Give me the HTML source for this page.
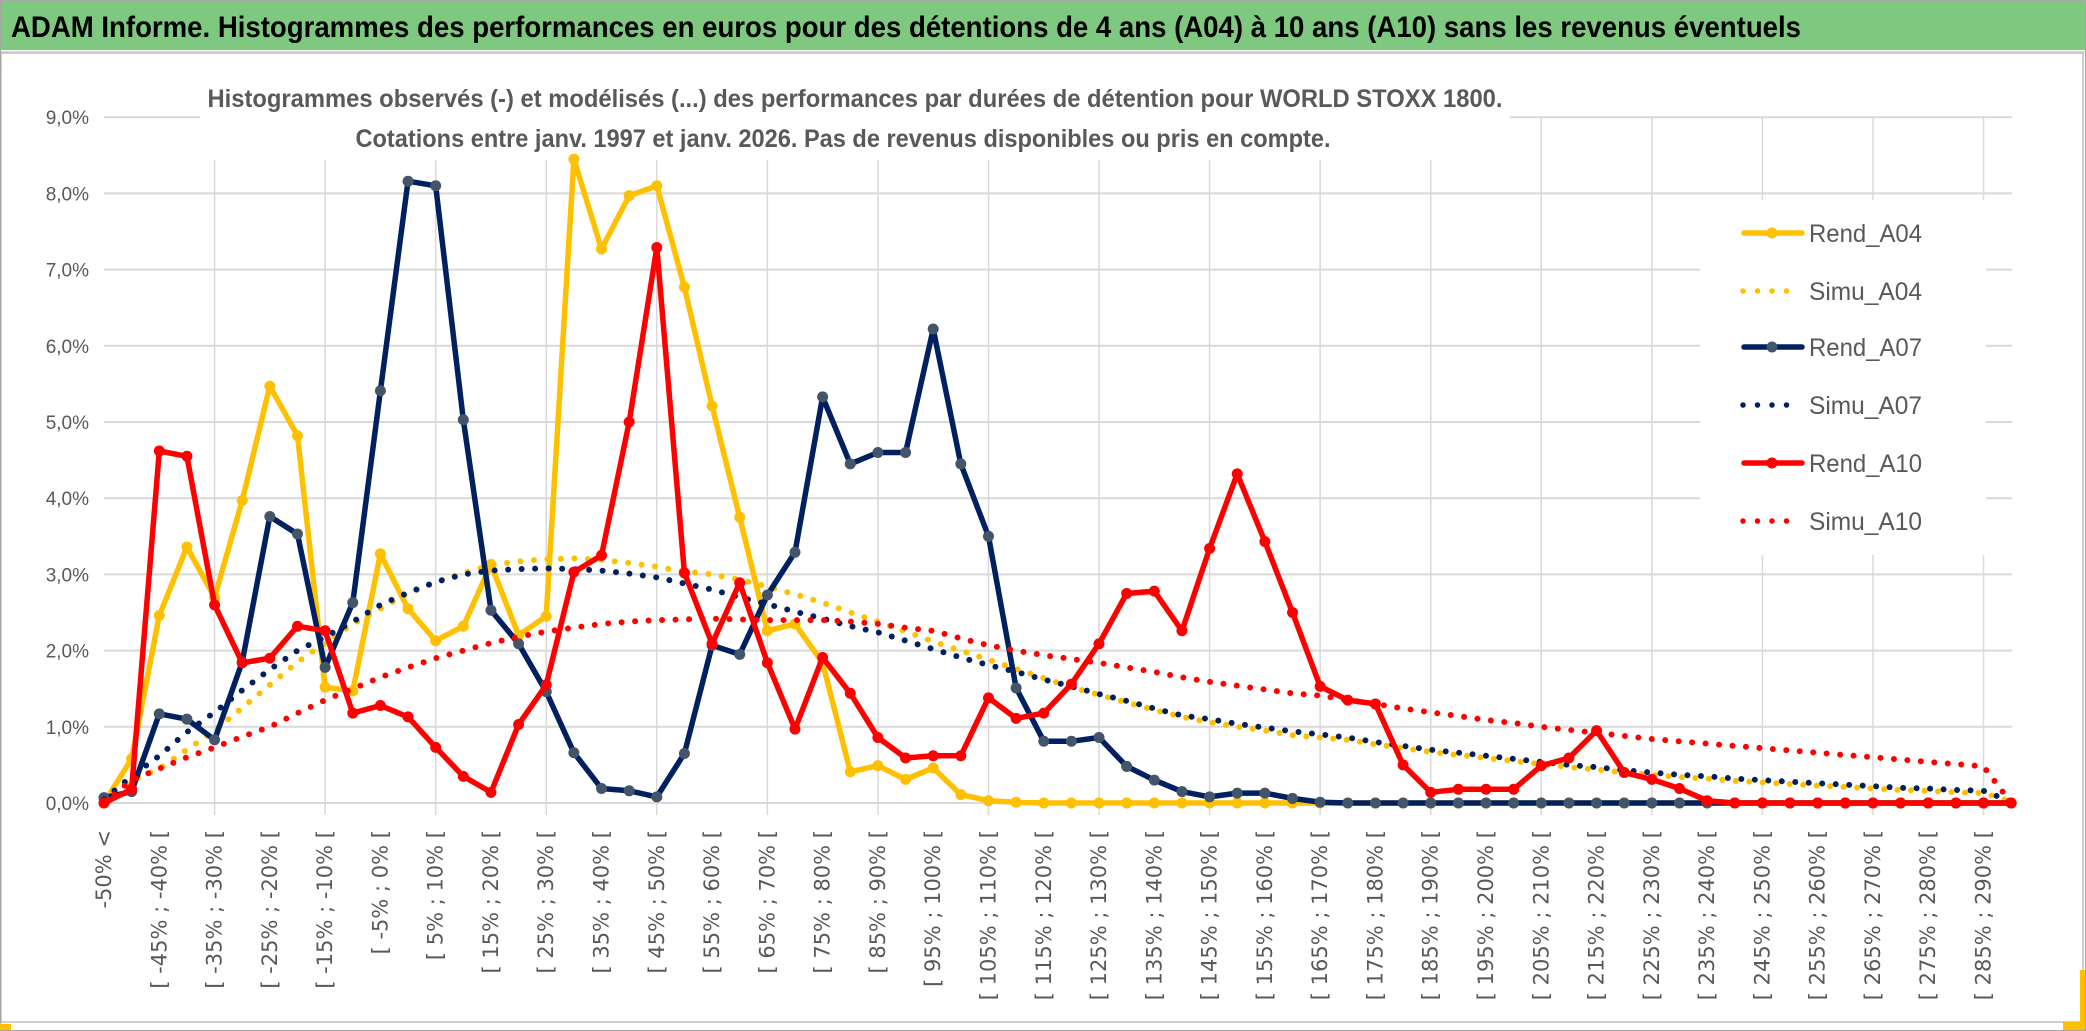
<!DOCTYPE html>
<html><head><meta charset="utf-8"><style>
html,body{margin:0;padding:0;background:#fff;}
svg{display:block;}
</style></head><body>
<svg id="chart" width="2086" height="1031" viewBox="0 0 2086 1031" xmlns="http://www.w3.org/2000/svg">
  <rect x="0" y="0" width="2086" height="1031" fill="#fff"/>
  <rect x="1" y="1" width="2084" height="49" fill="#7ec97f"/>
  <line x1="0" y1="52" x2="2086" y2="52" stroke="#d9d9d9" stroke-width="2"/>
  <text x="11" y="37" font-family="Liberation Sans, sans-serif" font-weight="bold" font-size="30" fill="#000" textLength="1790" lengthAdjust="spacingAndGlyphs">ADAM Informe. Histogrammes des performances en euros pour des détentions de 4 ans (A04) à 10 ans (A10) sans les revenus éventuels</text>
  <rect x="1" y="53" width="2082" height="969" fill="none" stroke="#bfbfbf" stroke-width="1.5"/>
  <rect x="0.5" y="0.5" width="2085" height="1030" fill="none" stroke="#a6a6a6" stroke-width="1"/>
  <rect x="0" y="1024" width="11" height="6" fill="#ffc000"/>
  <rect x="2063" y="1022" width="22" height="8" fill="#ffc000"/>
  <rect x="2080" y="970" width="5" height="60" fill="#ffc000"/>
  <g id="grid"></g>
  <rect x="200" y="62" width="1310" height="98" fill="#fff"/>
  <rect x="1700" y="200" width="286" height="355" fill="#fff"/>
  <g id="yaxis"></g>
  <g id="xaxis"></g>
  <g id="series"></g>
  <text x="855" y="107" text-anchor="middle" font-family="Liberation Sans, sans-serif" font-weight="bold" font-size="25" fill="#595959" textLength="1295" lengthAdjust="spacingAndGlyphs">Histogrammes observés (-) et modélisés (...) des performances par durées de détention pour WORLD STOXX 1800.</text>
  <text x="843" y="147" text-anchor="middle" font-family="Liberation Sans, sans-serif" font-weight="bold" font-size="25" fill="#595959" textLength="975" lengthAdjust="spacingAndGlyphs">Cotations entre janv. 1997 et janv. 2026. Pas de revenus disponibles ou pris en compte.</text>
  <g id="legend"></g>
</svg>
<script>
const categories = ["-50% <"];
for (let v = -50; v < 295; v += 5) categories.push("[ " + v + "% ; " + (v + 5) + "% [");
const yTicks = ["0,0%","1,0%","2,0%","3,0%","4,0%","5,0%","6,0%","7,0%","8,0%","9,0%"];

const rendA04 = [0.0,0.58,2.46,3.36,2.7,3.97,5.47,4.82,1.52,1.47,3.27,2.55,2.13,2.32,3.13,2.2,2.45,8.45,7.27,7.97,8.1,6.77,5.21,3.75,2.26,2.35,1.84,0.41,0.49,0.31,0.46,0.11,0.03,0.01,0,0,0,0,0,0,0,0,0,0,0,0,0,0,0,0,0,0,0,0,0,0,0,0,0,0,0,0,0,0,0,0,0,0,0,0];
const simuA04 = [0.05,0.3,0.45,0.7,0.95,1.25,1.55,1.85,2.1,2.35,2.55,2.75,2.9,3.02,3.12,3.17,3.2,3.21,3.19,3.15,3.1,3.04,3.0,2.93,2.84,2.74,2.63,2.5,2.38,2.25,2.12,2.0,1.88,1.76,1.64,1.52,1.42,1.32,1.22,1.13,1.06,1.0,0.95,0.89,0.86,0.83,0.77,0.72,0.67,0.63,0.59,0.55,0.51,0.47,0.44,0.4,0.37,0.34,0.32,0.29,0.27,0.25,0.23,0.21,0.19,0.17,0.16,0.14,0.13,0.02];
const rendA07 = [0.07,0.15,1.17,1.1,0.83,1.85,3.76,3.53,1.78,2.63,5.41,8.16,8.1,5.03,2.53,2.09,1.46,0.66,0.19,0.16,0.08,0.65,2.07,1.95,2.73,3.29,5.33,4.45,4.6,4.6,6.22,4.45,3.5,1.51,0.81,0.81,0.86,0.48,0.3,0.15,0.08,0.13,0.13,0.06,0.01,0,0,0,0,0,0,0,0,0,0,0,0,0,0,0,0,0,0,0,0,0,0,0,0,0];
const simuA07 = [0.05,0.35,0.62,0.93,1.19,1.48,1.75,2.0,2.18,2.38,2.6,2.76,2.9,3.0,3.05,3.07,3.08,3.07,3.05,3.01,2.96,2.88,2.8,2.7,2.61,2.51,2.42,2.32,2.24,2.13,2.02,1.91,1.81,1.72,1.62,1.53,1.43,1.34,1.24,1.15,1.1,1.04,0.99,0.94,0.9,0.86,0.8,0.75,0.7,0.66,0.62,0.58,0.54,0.5,0.47,0.43,0.4,0.37,0.35,0.32,0.3,0.28,0.26,0.24,0.22,0.2,0.19,0.17,0.16,0.02];
const rendA10 = [0.0,0.18,4.62,4.55,2.6,1.84,1.9,2.32,2.26,1.18,1.28,1.13,0.73,0.35,0.14,1.03,1.55,3.03,3.25,5.0,7.29,3.02,2.09,2.89,1.84,0.97,1.91,1.44,0.86,0.59,0.62,0.62,1.38,1.11,1.18,1.56,2.09,2.75,2.78,2.26,3.34,4.32,3.43,2.5,1.53,1.35,1.3,0.5,0.14,0.18,0.18,0.18,0.49,0.59,0.95,0.4,0.31,0.19,0.03,0,0,0,0,0,0,0,0,0,0,0];
const simuA10 = [0.0,0.3,0.45,0.6,0.73,0.87,1.0,1.18,1.35,1.5,1.65,1.78,1.9,2.0,2.1,2.18,2.25,2.3,2.35,2.38,2.4,2.41,2.42,2.41,2.4,2.4,2.4,2.38,2.35,2.3,2.26,2.16,2.07,2.0,1.94,1.89,1.84,1.78,1.72,1.65,1.59,1.54,1.49,1.44,1.41,1.35,1.3,1.24,1.19,1.14,1.09,1.05,1.0,0.96,0.92,0.88,0.84,0.81,0.78,0.75,0.72,0.69,0.66,0.63,0.6,0.57,0.54,0.51,0.48,0.0];

const NS = "http://www.w3.org/2000/svg";
const X0 = 104, DX = 27.64, Y0 = 803, PXPER = 76.2, PLOT_R = 2012;
function xPos(i){ return X0 + DX * i; }
function yPos(v){ return Y0 - v * PXPER; }
function mk(tag, attrs, parent){
  const e = document.createElementNS(NS, tag);
  for (const k in attrs) e.setAttribute(k, attrs[k]);
  parent.appendChild(e); return e;
}
const grid = document.getElementById('grid');
yTicks.forEach((t, i) => {
  const l = mk('line', {x1: X0, x2: PLOT_R, y1: yPos(i), y2: yPos(i), stroke: '#d9d9d9', 'stroke-width': 2}, grid);
  
  
});
for (let i = 4; i < categories.length; i += 4) {
  const l = mk('line', {x1: xPos(i), x2: xPos(i), y1: yPos(9), y2: Y0 + 12, stroke: '#d9d9d9', 'stroke-width': 1.5}, grid);
  
  
}
const yaxis = document.getElementById('yaxis');
yTicks.forEach((t, i) => {
  const tx = mk('text', {x: 89, y: yPos(i) + 7, 'text-anchor': 'end', 'font-family': 'Liberation Sans, sans-serif', 'font-size': 19, fill: '#595959'}, yaxis);
  tx.textContent = t;
  
  
});
const xaxis = document.getElementById('xaxis');
categories.forEach((c, i) => {
  if (i % 2 === 1) return;
  const x = xPos(i) + 7;
  const tx = mk('text', {x: x, y: 830, 'text-anchor': 'end', transform: 'rotate(-90 ' + x + ' 830)', 'font-family': 'DejaVu Sans, sans-serif', 'font-size': 21, fill: '#595959'}, xaxis);
  tx.textContent = c;
  
  
});
const seriesG = document.getElementById('series');
function pts(arr){ return arr.map((v, i) => xPos(i).toFixed(1) + ',' + yPos(v).toFixed(1)).join(' '); }
function drawRend(arr, color, mcolor, name){
  const g = mk('g', {}, seriesG);
  
  
  const p = mk('polyline', {points: pts(arr), fill: 'none', stroke: color, 'stroke-width': 5.5, 'stroke-linejoin': 'round'}, g);
  
  
  arr.forEach((v, i) => {
    const c = mk('circle', {cx: xPos(i), cy: yPos(v), r: 5.5, fill: mcolor}, g);
    
    
  });
}
function drawSimu(arr, color, name){
  const p = mk('polyline', {points: pts(arr), fill: 'none', stroke: color, 'stroke-width': 6, 'stroke-linecap': 'round', 'stroke-dasharray': '0 13.5'}, seriesG);
  
  
}
drawRend(rendA04, '#ffc000', '#ffc000', 'rend-a04-series');
drawSimu(simuA04, '#ffc000', 'simu-a04-series');
drawRend(rendA07, '#002060', '#44546a', 'rend-a07-series');
drawSimu(simuA07, '#002060', 'simu-a07-series');
drawRend(rendA10, '#ff0000', '#ff0000', 'rend-a10-series');
drawSimu(simuA10, '#ff0000', 'simu-a10-series');

const legendItems = [
  ['Rend_A04', '#ffc000', '#ffc000', false],
  ['Simu_A04', '#ffc000', null, true],
  ['Rend_A07', '#002060', '#44546a', false],
  ['Simu_A07', '#002060', null, true],
  ['Rend_A10', '#ff0000', '#ff0000', false],
  ['Simu_A10', '#ff0000', null, true]
];
const legendYs = [233, 291, 347, 405, 463, 521];
const leg = document.getElementById('legend');
legendItems.forEach((it, k) => {
  const y = legendYs[k];
  const g = mk('g', {}, leg);
  
  
  if (it[3]) {
    const l = mk('line', {x1: 1743, x2: 1800, y1: y, y2: y, stroke: it[1], 'stroke-width': 5.5, 'stroke-linecap': 'round', 'stroke-dasharray': '0 14.5'}, g);
    
    
  } else {
    const l = mk('line', {x1: 1744, x2: 1802, y1: y, y2: y, stroke: it[1], 'stroke-width': 5.5, 'stroke-linecap': 'round'}, g);
    
    
    const c = mk('circle', {cx: 1772, cy: y, r: 5.5, fill: it[2]}, g);
    
    
  }
  const t = mk('text', {x: 1809, y: y + 9, 'font-family': 'Liberation Sans, sans-serif', 'font-size': 25, fill: '#595959', textLength: 113, lengthAdjust: 'spacingAndGlyphs'}, g);
  t.textContent = it[0];
  
  
});
</script>
</body></html>
